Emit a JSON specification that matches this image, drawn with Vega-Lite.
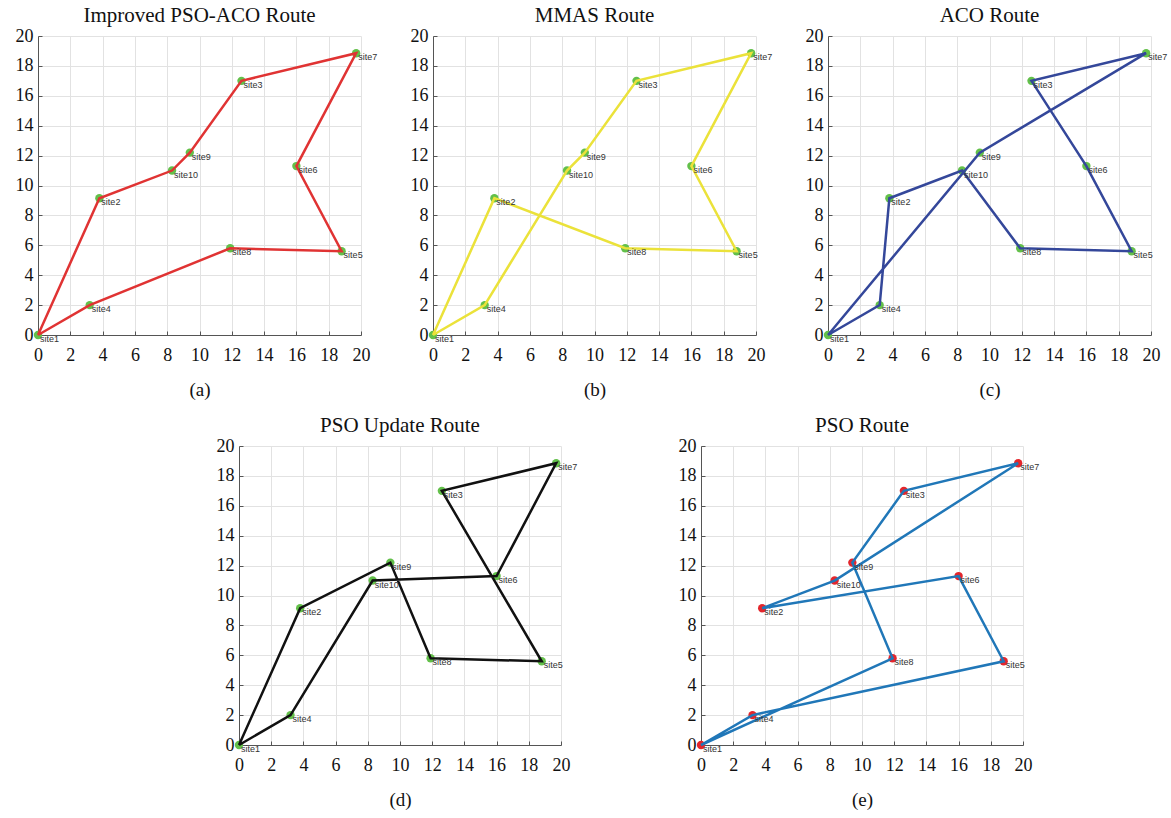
{
  "$schema": "https://vega.github.io/schema/vega-lite/v6.json",
  "padding": {"left": 15, "top": 5, "right": 0, "bottom": 5},
  "background": "white",
  "datasets": {
    "sites": [
      {"site": "site1", "x": 0, "y": 0},
      {"site": "site2", "x": 3.8, "y": 9.15},
      {"site": "site3", "x": 12.6, "y": 17.0},
      {"site": "site4", "x": 3.2, "y": 2.0},
      {"site": "site5", "x": 18.8, "y": 5.6},
      {"site": "site6", "x": 16.0, "y": 11.3},
      {"site": "site7", "x": 19.7, "y": 18.85},
      {"site": "site8", "x": 11.9, "y": 5.8},
      {"site": "site9", "x": 9.4, "y": 12.2},
      {"site": "site10", "x": 8.3, "y": 11.0}
    ],
    "routes": [
      {"panel": "a", "ord": 0, "x": 0, "y": 0},
      {"panel": "a", "ord": 1, "x": 3.8, "y": 9.15},
      {"panel": "a", "ord": 2, "x": 8.3, "y": 11.0},
      {"panel": "a", "ord": 3, "x": 9.4, "y": 12.2},
      {"panel": "a", "ord": 4, "x": 12.6, "y": 17.0},
      {"panel": "a", "ord": 5, "x": 19.7, "y": 18.85},
      {"panel": "a", "ord": 6, "x": 16.0, "y": 11.3},
      {"panel": "a", "ord": 7, "x": 18.8, "y": 5.6},
      {"panel": "a", "ord": 8, "x": 11.9, "y": 5.8},
      {"panel": "a", "ord": 9, "x": 3.2, "y": 2.0},
      {"panel": "a", "ord": 10, "x": 0, "y": 0},
      {"panel": "b", "ord": 0, "x": 0, "y": 0},
      {"panel": "b", "ord": 1, "x": 3.8, "y": 9.15},
      {"panel": "b", "ord": 2, "x": 11.9, "y": 5.8},
      {"panel": "b", "ord": 3, "x": 18.8, "y": 5.6},
      {"panel": "b", "ord": 4, "x": 16.0, "y": 11.3},
      {"panel": "b", "ord": 5, "x": 19.7, "y": 18.85},
      {"panel": "b", "ord": 6, "x": 12.6, "y": 17.0},
      {"panel": "b", "ord": 7, "x": 9.4, "y": 12.2},
      {"panel": "b", "ord": 8, "x": 8.3, "y": 11.0},
      {"panel": "b", "ord": 9, "x": 3.2, "y": 2.0},
      {"panel": "b", "ord": 10, "x": 0, "y": 0},
      {"panel": "c", "ord": 0, "x": 0, "y": 0},
      {"panel": "c", "ord": 1, "x": 3.2, "y": 2.0},
      {"panel": "c", "ord": 2, "x": 3.8, "y": 9.15},
      {"panel": "c", "ord": 3, "x": 8.3, "y": 11.0},
      {"panel": "c", "ord": 4, "x": 11.9, "y": 5.8},
      {"panel": "c", "ord": 5, "x": 18.8, "y": 5.6},
      {"panel": "c", "ord": 6, "x": 16.0, "y": 11.3},
      {"panel": "c", "ord": 7, "x": 12.6, "y": 17.0},
      {"panel": "c", "ord": 8, "x": 19.7, "y": 18.85},
      {"panel": "c", "ord": 9, "x": 9.4, "y": 12.2},
      {"panel": "c", "ord": 10, "x": 0, "y": 0},
      {"panel": "d", "ord": 0, "x": 0, "y": 0},
      {"panel": "d", "ord": 1, "x": 3.8, "y": 9.15},
      {"panel": "d", "ord": 2, "x": 9.4, "y": 12.2},
      {"panel": "d", "ord": 3, "x": 11.9, "y": 5.8},
      {"panel": "d", "ord": 4, "x": 18.8, "y": 5.6},
      {"panel": "d", "ord": 5, "x": 12.6, "y": 17.0},
      {"panel": "d", "ord": 6, "x": 19.7, "y": 18.85},
      {"panel": "d", "ord": 7, "x": 16.0, "y": 11.3},
      {"panel": "d", "ord": 8, "x": 8.3, "y": 11.0},
      {"panel": "d", "ord": 9, "x": 3.2, "y": 2.0},
      {"panel": "d", "ord": 10, "x": 0, "y": 0},
      {"panel": "e", "ord": 0, "x": 0, "y": 0},
      {"panel": "e", "ord": 1, "x": 3.2, "y": 2.0},
      {"panel": "e", "ord": 2, "x": 18.8, "y": 5.6},
      {"panel": "e", "ord": 3, "x": 16.0, "y": 11.3},
      {"panel": "e", "ord": 4, "x": 3.8, "y": 9.15},
      {"panel": "e", "ord": 5, "x": 8.3, "y": 11.0},
      {"panel": "e", "ord": 6, "x": 19.7, "y": 18.85},
      {"panel": "e", "ord": 7, "x": 12.6, "y": 17.0},
      {"panel": "e", "ord": 8, "x": 9.4, "y": 12.2},
      {"panel": "e", "ord": 9, "x": 11.9, "y": 5.8},
      {"panel": "e", "ord": 10, "x": 0, "y": 0}
    ]
  },
  "spacing": 16,
  "vconcat": [
    {
      "spacing": 32,
      "hconcat": [
        {
          "title": "Improved PSO-ACO Route",
          "width": 323, "height": 299,
          "layer": [
            {"data": {"name": "sites"}, "mark": {"type": "circle", "size": 70, "opacity": 1, "color": "#63c04a"},
             "encoding": {"x": {"field": "x", "type": "quantitative", "scale": {"domain": [0, 20], "nice": false}, "axis": {"title": "(a)"}},
                          "y": {"field": "y", "type": "quantitative", "scale": {"domain": [0, 20], "nice": false}, "axis": {"title": null}}}},
            {"data": {"name": "routes"}, "transform": [{"filter": "datum.panel == 'a'"}], "mark": {"type": "line", "color": "#e03333", "strokeWidth": 2.5},
             "encoding": {"x": {"field": "x", "type": "quantitative"}, "y": {"field": "y", "type": "quantitative"}, "order": {"field": "ord"}}},
            {"data": {"name": "sites"}, "mark": {"type": "text", "align": "left", "baseline": "middle", "dx": 2, "dy": 4, "font": "Liberation Sans", "fontSize": 9, "color": "#333"},
             "encoding": {"x": {"field": "x", "type": "quantitative"}, "y": {"field": "y", "type": "quantitative"}, "text": {"field": "site"}}}
          ]
        },
        {
          "title": "MMAS Route",
          "width": 323, "height": 299,
          "layer": [
            {"data": {"name": "sites"}, "mark": {"type": "circle", "size": 70, "opacity": 1, "color": "#63c04a"},
             "encoding": {"x": {"field": "x", "type": "quantitative", "scale": {"domain": [0, 20], "nice": false}, "axis": {"title": "(b)"}},
                          "y": {"field": "y", "type": "quantitative", "scale": {"domain": [0, 20], "nice": false}, "axis": {"title": null}}}},
            {"data": {"name": "routes"}, "transform": [{"filter": "datum.panel == 'b'"}], "mark": {"type": "line", "color": "#ebe23a", "strokeWidth": 2.5},
             "encoding": {"x": {"field": "x", "type": "quantitative"}, "y": {"field": "y", "type": "quantitative"}, "order": {"field": "ord"}}},
            {"data": {"name": "sites"}, "mark": {"type": "text", "align": "left", "baseline": "middle", "dx": 2, "dy": 4, "font": "Liberation Sans", "fontSize": 9, "color": "#333"},
             "encoding": {"x": {"field": "x", "type": "quantitative"}, "y": {"field": "y", "type": "quantitative"}, "text": {"field": "site"}}}
          ]
        },
        {
          "title": "ACO Route",
          "width": 323, "height": 299,
          "layer": [
            {"data": {"name": "sites"}, "mark": {"type": "circle", "size": 70, "opacity": 1, "color": "#63c04a"},
             "encoding": {"x": {"field": "x", "type": "quantitative", "scale": {"domain": [0, 20], "nice": false}, "axis": {"title": "(c)"}},
                          "y": {"field": "y", "type": "quantitative", "scale": {"domain": [0, 20], "nice": false}, "axis": {"title": null}}}},
            {"data": {"name": "routes"}, "transform": [{"filter": "datum.panel == 'c'"}], "mark": {"type": "line", "color": "#34479a", "strokeWidth": 2.5},
             "encoding": {"x": {"field": "x", "type": "quantitative"}, "y": {"field": "y", "type": "quantitative"}, "order": {"field": "ord"}}},
            {"data": {"name": "sites"}, "mark": {"type": "text", "align": "left", "baseline": "middle", "dx": 2, "dy": 4, "font": "Liberation Sans", "fontSize": 9, "color": "#333"},
             "encoding": {"x": {"field": "x", "type": "quantitative"}, "y": {"field": "y", "type": "quantitative"}, "text": {"field": "site"}}}
          ]
        }
      ]
    },
    {
      "spacing": 100,
      "hconcat": [
        {
          "width": 78, "height": 299,
          "data": {"values": []},
          "mark": {"type": "point", "opacity": 0},
          "encoding": {}
        },
        {
          "title": "PSO Update Route",
          "width": 322, "height": 299,
          "layer": [
            {"data": {"name": "sites"}, "mark": {"type": "circle", "size": 70, "opacity": 1, "color": "#63c04a"},
             "encoding": {"x": {"field": "x", "type": "quantitative", "scale": {"domain": [0, 20], "nice": false}, "axis": {"title": "(d)"}},
                          "y": {"field": "y", "type": "quantitative", "scale": {"domain": [0, 20], "nice": false}, "axis": {"title": null}}}},
            {"data": {"name": "routes"}, "transform": [{"filter": "datum.panel == 'd'"}], "mark": {"type": "line", "color": "#111111", "strokeWidth": 2.5},
             "encoding": {"x": {"field": "x", "type": "quantitative"}, "y": {"field": "y", "type": "quantitative"}, "order": {"field": "ord"}}},
            {"data": {"name": "sites"}, "mark": {"type": "text", "align": "left", "baseline": "middle", "dx": 2, "dy": 4, "font": "Liberation Sans", "fontSize": 9, "color": "#333"},
             "encoding": {"x": {"field": "x", "type": "quantitative"}, "y": {"field": "y", "type": "quantitative"}, "text": {"field": "site"}}}
          ]
        },
        {
          "title": "PSO Route",
          "width": 322, "height": 299,
          "layer": [
            {"data": {"name": "sites"}, "mark": {"type": "circle", "size": 70, "opacity": 1, "color": "#e3262c"},
             "encoding": {"x": {"field": "x", "type": "quantitative", "scale": {"domain": [0, 20], "nice": false}, "axis": {"title": "(e)"}},
                          "y": {"field": "y", "type": "quantitative", "scale": {"domain": [0, 20], "nice": false}, "axis": {"title": null}}}},
            {"data": {"name": "routes"}, "transform": [{"filter": "datum.panel == 'e'"}], "mark": {"type": "line", "color": "#2077b8", "strokeWidth": 2.5},
             "encoding": {"x": {"field": "x", "type": "quantitative"}, "y": {"field": "y", "type": "quantitative"}, "order": {"field": "ord"}}},
            {"data": {"name": "sites"}, "mark": {"type": "text", "align": "left", "baseline": "middle", "dx": 2, "dy": 4, "font": "Liberation Sans", "fontSize": 9, "color": "#333"},
             "encoding": {"x": {"field": "x", "type": "quantitative"}, "y": {"field": "y", "type": "quantitative"}, "text": {"field": "site"}}}
          ]
        }
      ]
    }
  ],
  "config": {
    "view": {"stroke": null},
    "axis": {
      "labelFont": "Liberation Serif", "labelFontSize": 18, "labelColor": "#111",
      "grid": true, "gridColor": "#e2e2e2", "gridWidth": 1,
      "domainColor": "#555", "domainWidth": 1,
      "tickColor": "#555", "tickSize": -4, "tickCount": 10,
      "labelFlush": false, "labelOverlap": false,
      "titleFont": "Liberation Serif", "titleFontSize": 19, "titleFontWeight": "normal", "titleColor": "#111"
    },
    "axisX": {"labelPadding": 15, "titlePadding": 16},
    "axisY": {"labelPadding": 9},
    "title": {"font": "Liberation Serif", "fontSize": 21, "fontWeight": "normal", "color": "#111", "offset": 1}
  }
}
